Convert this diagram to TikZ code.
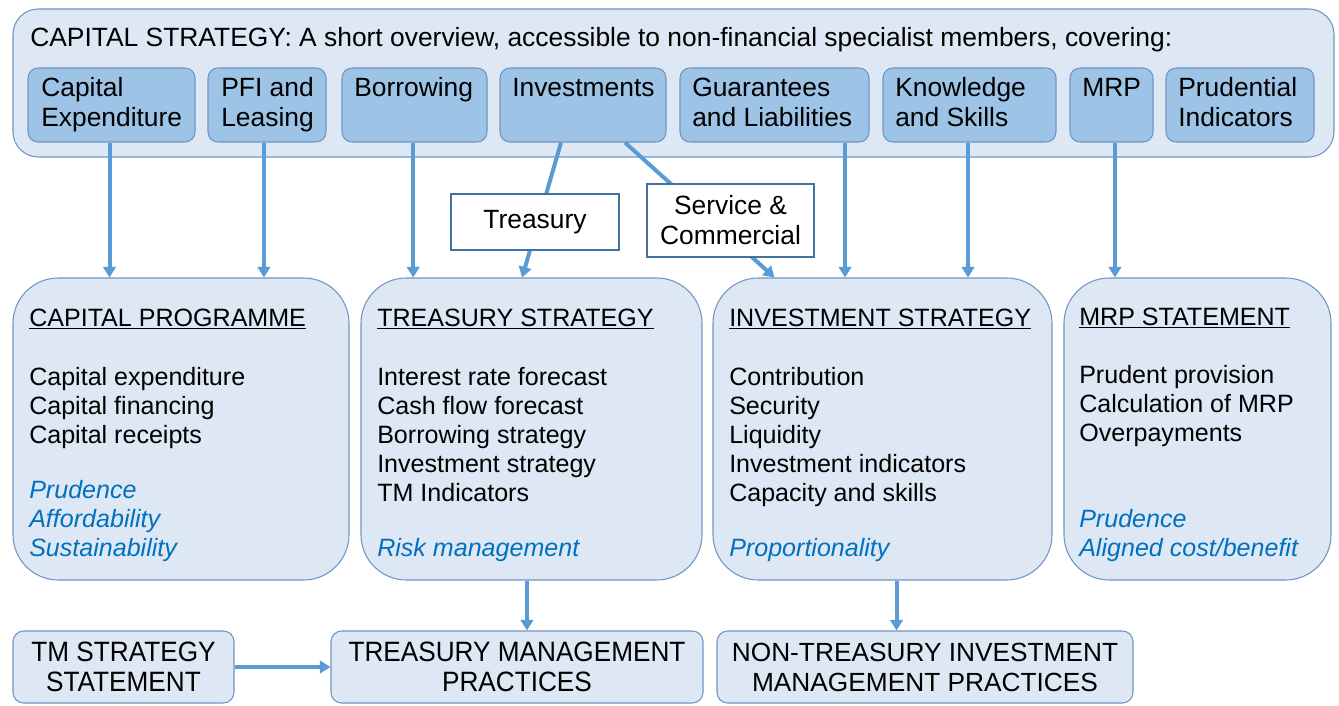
\documentclass[tikz,border=0pt]{standalone}
\usepackage{fontspec}
\setmainfont{Liberation Sans}
\newfontfamily\narrowfont[FakeStretch=0.935]{Liberation Sans}
\usetikzlibrary{fit,arrows.meta}
\definecolor{lightfill}{HTML}{DDE8F4}
\definecolor{midfill}{HTML}{9DC3E6}
\definecolor{bordc}{HTML}{6F95C4}
\definecolor{tagc}{HTML}{41719C}
\definecolor{arrowc}{HTML}{5B9BD5}
\definecolor{notec}{HTML}{0070C0}
\newcommand\mylines[1]{\begin{tabular}[t]{@{}l@{}}#1\end{tabular}}
\newcommand\basefont{\fontsize{18.8}{21.75}\selectfont}
\newcommand\topfont{\fontsize{19.8}{22.5}\selectfont}
\begin{document}
\begin{tikzpicture}[x=0.75pt,y=-0.75pt,
  every node/.style={font=\basefont},
  bx/.style={draw=bordc, line width=0.8pt, inner sep=0pt},
  outerbox/.style={bx, fill=lightfill, rounded corners=19pt},
  topic/.style={bx, fill=midfill, rounded corners=7.5pt},
  strat/.style={bx, fill=lightfill, rounded corners=34pt},
  practice/.style={bx, fill=lightfill, rounded corners=8pt},
  tag/.style={draw=tagc, line width=1.5pt, fill=white, inner sep=0pt},
  txt/.style={inner sep=0pt, anchor=base west},
  toptxt/.style={txt, font=\topfont},
  ctxt/.style={inner sep=0pt, align=center},
  note/.style={txt, text=notec, font=\basefont\itshape},
  arr/.style={draw=arrowc, line width=3pt, -{Triangle[length=8pt,width=9.5pt]}},
]
\useasboundingbox (0,0) rectangle (1339,706);

% ---- top overview
\node[outerbox, fit={(13,9) (1334,157)}] (cs) {};
\node[toptxt] (cstitle) at (30,47) {CAPITAL STRATEGY: A short overview, accessible to non-financial specialist members, covering:};

\node[topic, fit={(28,68) (195,142)}] (capex) {};
\node[topic, fit={(208,68) (326,142)}] (pfi) {};
\node[topic, fit={(342,68) (487,142)}] (borr) {};
\node[topic, fit={(500,68) (666,142)}] (inv) {};
\node[topic, fit={(680,68) (869,142)}] (guar) {};
\node[topic, fit={(883,68) (1056,142)}] (know) {};
\node[topic, fit={(1070,68) (1153,142)}] (mrp) {};
\node[topic, fit={(1166,68) (1314,142)}] (prud) {};

\node[toptxt] (capext) at (41,97) {\mylines{Capital\\Expenditure}};
\node[toptxt] (pfit) at (221,97) {\mylines{PFI and\\Leasing}};
\node[toptxt] (borrt) at (354,97) {Borrowing};
\node[toptxt] (invt) at (512,97) {Investments};
\node[toptxt] (guart) at (692,97) {\mylines{Guarantees\\and Liabilities}};
\node[toptxt] (knowt) at (895,97) {\mylines{Knowledge\\and Skills}};
\node[toptxt] (mrpt) at (1082,97) {MRP};
\node[toptxt] (prudt) at (1178,97) {\mylines{Prudential\\Indicators}};

% ---- strategy boxes
\node[strat, fit={(13,278) (349,580)}] (capprog) {};
\node[strat, fit={(361,278) (702,580)}] (treas) {};
\node[strat, fit={(713,278) (1052,580)}] (invstrat) {};
\node[strat, fit={(1064,278) (1331,580)}] (mrpst) {};

\node[txt] (cph) at (29,326) {\underline{CAPITAL PROGRAMME}};
\node[txt] (cpi) at (29,385) {\mylines{Capital expenditure\\Capital financing\\Capital receipts}};
\node[note] (cpn) at (29,498) {\mylines{Prudence\\Affordability\\Sustainability}};

\node[txt] (tsh) at (377,326) {\underline{TREASURY STRATEGY}};
\node[txt] (tsi) at (377,385) {\mylines{Interest rate forecast\\Cash flow forecast\\Borrowing strategy\\Investment strategy\\TM Indicators}};
\node[note] (tsn) at (377,556) {Risk management};

\node[txt] (ish) at (729,326) {\underline{INVESTMENT STRATEGY}};
\node[txt] (isi) at (729,385) {\mylines{Contribution\\Security\\Liquidity\\Investment indicators\\Capacity and skills}};
\node[note] (isn) at (729,556) {Proportionality};

\node[txt] (msh) at (1079,325) {\underline{MRP STATEMENT}};
\node[txt] (msi) at (1079,383) {\mylines{Prudent provision\\Calculation of MRP\\Overpayments}};
\node[note] (msn) at (1079,527) {\mylines{Prudence\\Aligned cost/benefit}};

% ---- practices
\node[practice, fit={(13,631) (234,703)}] (tmss) {};
\node[practice, fit={(331,631) (703,703)}] (tmp) {};
\node[practice, fit={(717,631) (1133,703)}] (ntimp) {};
\node[ctxt, font=\narrowfont\fontsize{21}{22.5}\selectfont] (tmsst) at (tmss.center) {TM STRATEGY\\STATEMENT};
\node[ctxt, font=\narrowfont\fontsize{21}{22.5}\selectfont] (tmpt) at (tmp.center) {TREASURY MANAGEMENT\\PRACTICES};
\node[ctxt, font=\fontsize{19.7}{22.5}\selectfont] (ntimpt) at (ntimp.center) {NON-TREASURY INVESTMENT\\MANAGEMENT PRACTICES};

% ---- connectors
\draw[arr] ([xshift=-1.5pt]capex.south) -- ([xshift=-1.5pt]capex.south |- capprog.north);
\draw[arr] ([xshift=-2.3pt]pfi.south) -- ([xshift=-2.3pt]pfi.south |- capprog.north);
\draw[arr] ([xshift=-1pt]borr.south) -- ([xshift=-1pt]borr.south |- treas.north);
\draw[arr] ([xshift=-16.5pt]inv.south) -- ([xshift=-7pt]treas.north);
\draw[arr] ([xshift=31.5pt]inv.south) -- ([xshift=-81pt]invstrat.north);
\draw[arr] ([xshift=52.9pt]guar.south) -- ([xshift=52.9pt]guar.south |- invstrat.north);
\draw[arr] ([xshift=-1.1pt]know.south) -- ([xshift=-1.1pt]know.south |- invstrat.north);
\draw[arr] ([xshift=2.6pt]mrp.south) -- ([xshift=2.6pt]mrp.south |- mrpst.north);
\draw[arr] ([xshift=-3.4pt]treas.south) -- ([xshift=-3.4pt]treas.south |- tmp.north);
\draw[arr] ([xshift=10.5pt]invstrat.south) -- ([xshift=10.5pt]invstrat.south |- ntimp.north);
\draw[arr] (tmss.east) -- (tmp.west);

% ---- connector labels
\node[tag, fit={(451,194) (619,250)}] (treastag) {};
\node[tag, fit={(647,184) (814,257)}] (svctag) {};
\node[ctxt, font=\topfont] (treastagt) at (treastag.center) {Treasury};
\node[ctxt, font=\topfont] (svctagt) at (svctag.center) {Service \&\\Commercial};
\end{tikzpicture}
\end{document}
